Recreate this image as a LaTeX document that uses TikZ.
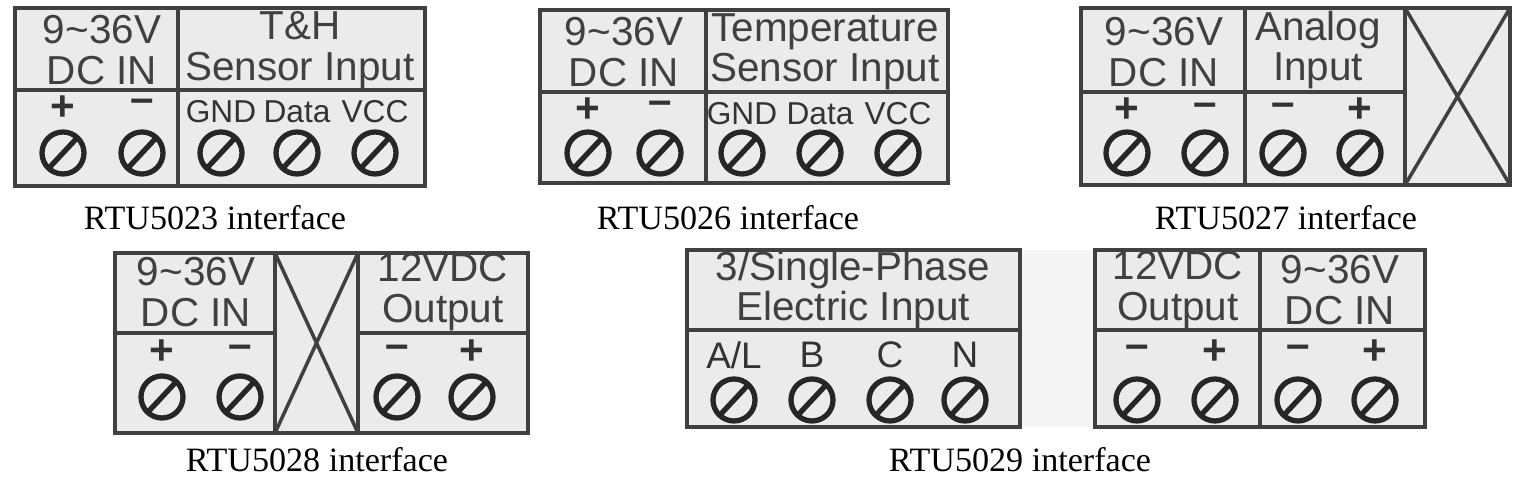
\documentclass[tikz,border=0pt]{standalone}
\usepackage{fontspec}
\setmainfont{Liberation Serif}
\newfontfamily\panelfont{Liberation Sans}
\usepackage{tikz}

\tikzset{
    panel/.style={draw=black!75, line width=1pt, fill=black!8},
    head/.style={font=\panelfont\fontsize{11.5}{11.5}\selectfont, text=black!75, align=center},
    pin/.style={font=\panelfont\fontsize{9}{9}\selectfont, text=black!80},
    sign/.style={font=\panelfont\bfseries\fontsize{12}{12}\selectfont, text=black!80},
    caption/.style={font=\fontsize{9.7}{10}\selectfont},
    screw/.pic={
        \draw[line width=1.5pt, black!85] (0,0) circle (21);
        \draw[line width=1.5pt, black!85] (-14,15) -- (14,-15);
    }
}

\begin{document}
\begin{tikzpicture}[x=0.01cm, y=-0.01cm]
        \useasboundingbox (0,0) rectangle (1524,489);

        % RTU5023 interface.
        \draw[panel] (15,8) rectangle (425,186);
        \draw[panel] (15,90) -- (425,90) (178,8) -- (178,186);
        \node[head] (a1) at (102,50) {9\textasciitilde36V\\DC IN};
        \node[head] (a2) at (300,50) {T\&H\\Sensor Input};
        \node[sign] (a1t) at (63,108) {+};
        \node[sign] (a2t) at (142,106) {\textendash};
        \foreach \x/\t [count=\i from 3] in {221/GND,297/Data,375/VCC} {
            \node[pin] (a\i t) at (\x,112) {\t};
        }
        \foreach \x in {63,142,221,297,375} \pic at (\x,153) {screw};
        \node[caption] (ca) at (215,218) {RTU5023 interface};

        % RTU5026 interface.
        \draw[panel] (540,10) rectangle (948,183);
        \draw[panel] (540,92) -- (948,92) (706,10) -- (706,183);
        \node[head] (b1) at (624,52) {9\textasciitilde36V\\DC IN};
        \node[head] (b2) at (825,52) {Temperature\\Sensor Input};
        \node[sign] (b1t) at (588,110) {+};
        \node[sign] (b2t) at (660,108) {\textendash};
        \foreach \x/\t [count=\i from 3] in {742/GND,820/Data,898/VCC} {
            \node[pin] (b\i t) at (\x,114) {\t};
        }
        \foreach \x in {588,660,742,820,898} \pic at (\x,153) {screw};
        \node[caption] (cb) at (728,218) {RTU5026 interface};

        % RTU5027 interface.
        \draw[panel] (1081,8) rectangle (1510,185);
        \draw[panel] (1081,92) -- (1405,92) (1245,8) -- (1245,185) (1405,8) -- (1405,185);
        \draw[panel] (1405,8) -- (1510,185) (1405,185) -- (1510,8);
        \node[head] (c1) at (1164,52) {9\textasciitilde36V\\DC IN};
        \node[head] (c2) at (1318,50) {Analog\\Input};
        \foreach \x/\t [count=\i] in {1127/+,1205/\textendash,1283/\textendash,1360/+} {
            \node[sign] (c\i t) at (\x,110) {\t};
            \pic at (\x,153) {screw};
        }
        \node[caption] (cc) at (1286,218) {RTU5027 interface};

        % RTU5028 interface.
        \draw[panel] (115,253) rectangle (528,433);
        \draw[panel] (115,333) -- (275,333) (358,333) -- (528,333)
            (275,253) -- (275,433) (358,253) -- (358,433);
        \draw[panel] (275,253) -- (358,433) (275,433) -- (358,253);
        \node[head] (d1) at (196,292) {9\textasciitilde36V\\DC IN};
        \node[head] (d2) at (443,292) {12VDC\\Output};
        \foreach \x/\t [count=\i] in {162/+,240/\textendash,397/\textendash,472/+} {
            \node[sign] (d\i t) at (\x,352) {\t};
            \pic at (\x,397) {screw};
        }
        \node[caption] (cd) at (317,460) {RTU5028 interface};

        % RTU5029 interface.
        \fill[black!4] (1020,250) rectangle (1095,427);
        \draw[panel] (687,250) rectangle (1020,427);
        \draw[panel] (1095,250) rectangle (1425,427);
        \draw[panel] (687,330) -- (1020,330) (1095,330) -- (1425,330) (1260,250) -- (1260,427);
        \node[head] (e1) at (853,290) {3/Single-Phase\\Electric Input};
        \node[head] (e2) at (1178,290) {12VDC\\Output};
        \node[head] (e3) at (1340,290) {9\textasciitilde36V\\DC IN};
        \foreach \x/\t [count=\i] in {734/{A/L},812/B,890/C,965/N} {
            \node[pin, font=\panelfont\fontsize{10.5}{10.5}\selectfont] (e\i t) at (\x,355) {\t};
        }
        \foreach \x/\t [count=\i from 5] in {1137/\textendash,1215/+,1298/\textendash,1375/+} {
            \node[sign] (e\i t) at (\x,352) {\t};
        }
        \foreach \x in {734,812,890,965,1137,1215,1298,1375} \pic at (\x,400) {screw};
        \node[caption] (ce) at (1020,460) {RTU5029 interface};
    \end{tikzpicture}
\end{document}
